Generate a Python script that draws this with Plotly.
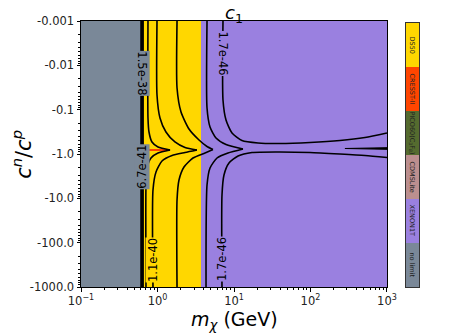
import numpy as np
import plotly.graph_objects as go

# ---------------- data ----------------
# region map (index into legend): 0 no limit, 1 XENON1T, 2 CDMSLite, 3 PICO60, 4 CRESST-II, 5 DS50
region_mass_edges = [0.1, 0.627, 0.646, 1.3, 3.7, 1000]
region_ratio_edges = [-0.001, -0.77, -0.845, -1000]
region_ids = [
    [0, 5, 5, 5, 1],
    [0, 5, 4, 5, 1],
    [0, 5, 5, 5, 1],
]
legend_names = ["no limit", "XENON1T", "CDMSLite", "PICO60(C<sub>3</sub>F<sub>8</sub>)", "CRESST-II", "DS50"]
legend_colors = ["#7A8898", "#9A80E0", "#BC8F8F", "#556B2F", "#FF4500", "#FFD700"]

# contour lines (mass in GeV, ratio c^n/c^p)
ca_up_m = [0.751, 0.751, 0.774, 0.847, 1.015, 1.46]
ca_up_r = [-0.001, -0.154, -0.319, -0.536, -0.695, -0.812]
ca_lo_m = [1.46, 1.015, 0.822, 0.729, 0.707, 0.707]
ca_lo_r = [-0.812, -0.949, -1.23, -2.07, -5.00, -1000]

cb_up_m = [0.985, 0.985, 1.078, 1.29, 1.69, 2.29, 3.28]
cb_up_r = [-0.001, -0.0467, -0.154, -0.319, -0.536, -0.714, -0.812]
cb_lo_m = [3.28, 2.29, 1.55, 1.145, 0.956, 0.873, 0.873]
cb_lo_r = [-0.812, -0.925, -1.081, -1.44, -2.55, -6.49, -1000]

cc_up_m = [1.80, 1.80, 2.03, 2.58, 3.49, 4.44, 5.31]
cc_up_r = [-0.001, -0.0325, -0.113, -0.273, -0.483, -0.677, -0.792]
cc_lo_m = [5.31, 4.18, 2.91, 2.22, 1.91, 1.80, 1.80]
cc_lo_r = [-0.792, -0.949, -1.23, -1.96, -3.86, -10.9, -1000]

cd_up_m = [4.44, 4.44, 4.86, 5.82, 7.86, 13.1]
cd_up_r = [-0.001, -0.0917, -0.246, -0.435, -0.611, -0.771]
cd_lo_m = [13.1, 8.35, 6.00, 4.86, 4.44, 4.31]
cd_lo_r = [-0.771, -0.949, -1.23, -2.07, -5.00, -1000]

ce_up_m = [7.18, 7.18, 7.86, 9.42, 12.7, 20.6, 39.9, 98.5, 243, 516, 1000]
ce_up_r = [-0.001, -0.0605, -0.171, -0.336, -0.496, -0.565, -0.580, -0.550, -0.496, -0.424, -0.336]
ce_lo_m = [6.97, 6.97, 7.40, 8.60, 11.3, 17.2, 39.9, 98.5, 243, 516, 1000]
ce_lo_r = [-1000, -8.41, -2.98, -1.60, -1.11, -0.925, -0.901, -0.925, -1.0, -1.081, -1.20]

cf_m = [282, 1000, 1000, 282]
cf_r = [-0.751, -0.72, -0.785, -0.751]

threshold_m = [0.627, 0.627]
threshold_r = [-0.001, -1000]
threshold2_m = [0.648, 0.648]

# contour labels: (text, mass, ratio, angle, background)
contour_labels = [
    ("1.7e-46", 7.18, -0.0054, 90, "#9A80E0"),
    ("1.7e-46", 6.97, -234, -90, "#9A80E0"),
    ("1.1e-40", 0.873, -246, -90, "#FFD700"),
    ("1.5e-38", 0.635, -0.0155, 90, "#7A8898"),
    ("6.7e-41", 0.635, -1.9, -90, "#7A8898"),
]

x_tickvals = [0.1, 1, 10, 100, 1000]
x_ticktext = ["10<sup>−1</sup>", "10<sup>0</sup>", "10<sup>1</sup>", "10<sup>2</sup>", "10<sup>3</sup>"]
y_tickvals = [-0.001, -0.01, -0.1, -1.0, -10.0, -100.0, -1000.0]
y_ticktext = ["-0.001", "-0.01", "-0.1", "-1.0", "-10.0", "-100.0", "-1000.0"]

# ---------------- figure ----------------
FONT = "DejaVu Sans"
fig = go.Figure()

n = len(legend_colors)
cscale = []
for i, c in enumerate(legend_colors):
    cscale.append([i / n, c])
    cscale.append([(i + 1) / n, c])

fig.add_trace(go.Heatmap(
    x=region_mass_edges, y=[-v for v in region_ratio_edges], z=region_ids,
    colorscale=cscale, zmin=-0.5, zmax=n - 0.5, showscale=False, hoverinfo="skip",
    xaxis="x", yaxis="y"))

def line(m, r, w=1.6):
    fig.add_trace(go.Scatter(x=m, y=[-v for v in r], mode="lines",
                             line=dict(color="black", width=w, shape="spline", smoothing=0.6),
                             hoverinfo="skip", showlegend=False))

for m, r in [(ca_up_m, ca_up_r), (ca_lo_m, ca_lo_r), (cb_up_m, cb_up_r), (cb_lo_m, cb_lo_r),
             (cc_up_m, cc_up_r), (cc_lo_m, cc_lo_r), (cd_up_m, cd_up_r), (cd_lo_m, cd_lo_r),
             (ce_up_m, ce_up_r), (ce_lo_m, ce_lo_r)]:
    line(m, r)

fig.add_trace(go.Scatter(x=cf_m, y=[-v for v in cf_r], mode="lines", fill="toself",
                         fillcolor="black", line=dict(color="black", width=1),
                         hoverinfo="skip", showlegend=False))
fig.add_trace(go.Scatter(x=threshold_m, y=[-v for v in threshold_r], mode="lines",
                         line=dict(color="black", width=3.5), hoverinfo="skip", showlegend=False))
fig.add_trace(go.Scatter(x=threshold2_m, y=[-v for v in threshold_r], mode="lines",
                         line=dict(color="black", width=1.2), hoverinfo="skip", showlegend=False))

# legend bar as a heatmap on its own axes
fig.add_trace(go.Heatmap(
    x=[0], y=list(range(n)), z=[[i] for i in range(n)],
    colorscale=cscale, zmin=-0.5, zmax=n - 0.5, showscale=False, hoverinfo="skip",
    xaxis="x2", yaxis="y2"))

annotations = []
for txt, m, r, ang, bg in contour_labels:
    annotations.append(dict(x=np.log10(m), y=np.log10(-r), xref="x", yref="y", text=txt,
                            showarrow=False, textangle=ang, bgcolor=bg, borderpad=0,
                            font=dict(family=FONT, size=11.5, color="black")))
for i, name in enumerate(legend_names):
    annotations.append(dict(x=0, y=i, xref="x2", yref="y2", text=name, showarrow=False,
                            textangle=90, font=dict(family=FONT, size=6.5, color="#222")))

annotations.append(dict(text="<i>c</i><sub>1</sub>", x=0.4527, y=1.078, xref="paper", yref="paper",
                        yanchor="top", showarrow=False, font=dict(family=FONT, size=18, color="black")))
annotations.append(dict(text="<i>m</i><sub><i>χ</i></sub> (GeV)", x=0.4527, y=-0.125, xref="paper",
                        yref="paper", yanchor="middle", showarrow=False,
                        font=dict(family=FONT, size=19, color="black")))
annotations.append(dict(text="<i>c</i><sup><i>n</i></sup>/<i>c</i><sup><i>p</i></sup>", x=-0.175, y=0.5,
                        xref="paper", yref="paper", xanchor="center", textangle=-90, showarrow=False,
                        font=dict(family=FONT, size=21, color="black")))

minor_x = [k * 10.0 ** e for e in range(-1, 3) for k in range(2, 10)]
minor_y = [k * 10.0 ** e for e in range(-3, 3) for k in range(2, 10)]

fig.update_layout(
    width=474, height=334,
    margin=dict(l=81, r=55, t=21, b=47),
    paper_bgcolor="white", plot_bgcolor="white",
    showlegend=False,
    font=dict(family=FONT, color="black"),
    annotations=annotations,
    xaxis=dict(type="log", range=[-1, 3], domain=[0, 0.9053],
               tickvals=x_tickvals, ticktext=x_ticktext, ticks="outside", ticklen=3.5,
               tickwidth=0.8, tickcolor="black", showgrid=False, zeroline=False,
               showline=True, mirror=True, linecolor="black", linewidth=1,
               tickfont=dict(family=FONT, size=11.5, color="#222"),
               minor=dict(tickvals=minor_x, ticks="outside", ticklen=2, tickcolor="black",
                          tickwidth=0.6, showgrid=False)),
    yaxis=dict(type="log", range=[3, -3], anchor="x",
               tickvals=[-v for v in y_tickvals], ticktext=y_ticktext, ticks="outside", ticklen=3.5,
               tickwidth=0.8, tickcolor="black", showgrid=False, zeroline=False,
               showline=True, mirror=True, linecolor="black", linewidth=1,
               tickfont=dict(family=FONT, size=11.5, color="#222"),
               minor=dict(tickvals=minor_y, ticks="outside", ticklen=2, tickcolor="black",
                          tickwidth=0.6, showgrid=False)),
    xaxis2=dict(domain=[0.9615, 1.0], anchor="y2", range=[-0.5, 0.5], showticklabels=False,
                ticks="", showgrid=False, zeroline=False, showline=True, mirror=True,
                linecolor="#333", linewidth=1),
    yaxis2=dict(domain=[0, 0.9925], anchor="x2", range=[-0.5, n - 0.5], showticklabels=False,
                ticks="", showgrid=False, zeroline=False, showline=True, mirror=True,
                linecolor="#333", linewidth=1),
)

fig.write_html("out.html")
